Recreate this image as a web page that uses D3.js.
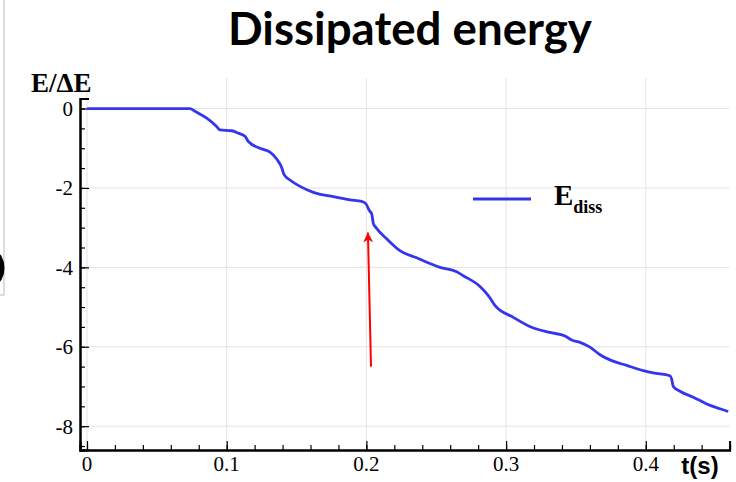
<!DOCTYPE html>
<html>
<head>
<meta charset="utf-8">
<script src="https://cdn.jsdelivr.net/npm/d3@7"></script>
<style>
  body { margin: 0; background: #fff; }
  svg { display: block; }
</style>
</head>
<body>
<svg id="chart" width="736" height="482"></svg>
<script>
// data
const time = [0, 0.0737, 0.0773, 0.0857, 0.0928, 0.0952, 0.1036, 0.1083, 0.1131, 0.1155,
  0.1238, 0.131, 0.1358, 0.1393, 0.141, 0.1453, 0.1525, 0.162, 0.1763, 0.1883,
  0.1966, 0.1997, 0.2021, 0.2038, 0.205, 0.2069, 0.2145, 0.224, 0.236, 0.2527,
  0.2646, 0.2694, 0.2813, 0.2873, 0.292, 0.3052, 0.3183, 0.3314, 0.3422, 0.347,
  0.3529, 0.36, 0.3672, 0.3756, 0.3863, 0.3982, 0.4054, 0.4173, 0.4185, 0.4197,
  0.4245, 0.434, 0.4436, 0.4531, 0.459];
const eDiss = [0, 0, -0.07, -0.24, -0.45, -0.54, -0.56, -0.62, -0.70, -0.83,
  -1.0, -1.10, -1.27, -1.48, -1.66, -1.80, -1.96, -2.11, -2.22, -2.30,
  -2.34, -2.40, -2.57, -2.65, -2.90, -3.00, -3.28, -3.58, -3.76, -4.0,
  -4.11, -4.21, -4.48, -4.71, -4.96, -5.26, -5.51, -5.64, -5.73, -5.83,
  -5.89, -6.01, -6.20, -6.35, -6.47, -6.60, -6.66, -6.73, -6.81, -7.0,
  -7.12, -7.27, -7.44, -7.56, -7.63];

const xTicks = [0, 0.1, 0.2, 0.3, 0.4];
const yTicks = [0, -2, -4, -6, -8];
const arrowFrom = [0.2033, -6.5];
const arrowTo = [0.2011, -3.12];

const svg = d3.select("#chart");

// scales
const x = d3.scaleLinear().domain([-0.005, 0.46]).range([80, 729.6]);
const y = d3.scaleLinear().domain([-8.6, 0.25]).range([450, 98.6]);

// stray bits at the left edge of the screenshot
svg.append("path")
  .attr("d", "M4,0 V295 H0")
  .attr("fill", "none")
  .attr("stroke", "#bbb")
  .attr("stroke-width", 1);
svg.append("ellipse")
  .attr("cx", -5).attr("cy", 268)
  .attr("rx", 9.5).attr("ry", 16)
  .attr("fill", "#000");

// grid
const grid = svg.append("g").attr("stroke", "#e3e3e3").attr("stroke-width", 1);
grid.selectAll(".gx").data(xTicks).join("line")
  .attr("x1", d => x(d)).attr("x2", d => x(d))
  .attr("y1", 78).attr("y2", y(-8.6));
grid.selectAll(".gy").data(yTicks).join("line")
  .attr("x1", x(-0.005)).attr("x2", x(0.46))
  .attr("y1", d => y(d)).attr("y2", d => y(d));

// axes (ticks point inward)
const xMinor = d3.range(0, 0.4601, 0.02);
const yMinor = d3.range(-8.5, 0.01, 0.5);

const xAxis = svg.append("g")
  .attr("transform", `translate(0,${y(-8.6)})`)
  .call(d3.axisTop(x).tickValues(xMinor).tickSize(5).tickFormat(""));
xAxis.append("g")
  .call(d3.axisTop(x).tickValues(xTicks).tickSize(9).tickFormat(""));
xAxis.selectAll(".domain").attr("stroke-width", 2);
xAxis.selectAll(".tick line").attr("stroke-width", 1.2);

svg.append("g").selectAll("text").data(xTicks).join("text")
  .attr("x", d => x(d))
  .attr("y", y(-8.6) + 21)
  .attr("text-anchor", "middle")
  .attr("font-family", "Liberation Serif")
  .attr("font-size", 21)
  .text(d => d3.format("~g")(d));

const yAxis = svg.append("g")
  .attr("transform", `translate(${x(-0.005)},0)`)
  .call(d3.axisRight(y).tickValues(yMinor).tickSize(5).tickFormat(""));
yAxis.append("g")
  .call(d3.axisRight(y).tickValues(yTicks).tickSize(9).tickFormat(""));
yAxis.selectAll(".domain").attr("stroke-width", 2);
yAxis.selectAll(".tick line").attr("stroke-width", 1.2);

svg.append("g").selectAll("text").data(yTicks).join("text")
  .attr("x", 73)
  .attr("y", d => y(d))
  .attr("dy", "0.35em")
  .attr("text-anchor", "end")
  .attr("font-family", "Liberation Serif")
  .attr("font-size", 21)
  .text(d => d);

// axis titles
svg.append("text")
  .attr("x", 31).attr("y", 92)
  .attr("font-family", "Liberation Serif")
  .attr("font-weight", "bold")
  .attr("font-size", 27)
  .text("E/ΔE");

svg.append("text")
  .attr("x", 700).attr("y", 474)
  .attr("text-anchor", "middle")
  .attr("font-family", "Liberation Sans")
  .attr("font-weight", "bold")
  .attr("font-size", 24)
  .text("t(s)");

// title, stretched to the width it has in the picture
const title = svg.append("text")
  .attr("x", 410).attr("y", 45)
  .attr("text-anchor", "middle")
  .attr("font-family", "Lato")
  .attr("font-weight", "bold")
  .attr("font-size", 36)
  .text("Dissipated energy");
const tw = title.node().getComputedTextLength();
title.attr("font-size", 36 * 364 / tw);

// curve
const line = d3.line()
  .x(d => x(d[0]))
  .y(d => y(d[1]))
  .curve(d3.curveMonotoneX);

svg.append("path")
  .datum(d3.zip(time, eDiss))
  .attr("d", line)
  .attr("fill", "none")
  .attr("stroke", "#3535ee")
  .attr("stroke-width", 2.8)
  .attr("stroke-linejoin", "round");

// red arrow
svg.append("defs").append("marker")
  .attr("id", "head")
  .attr("viewBox", "0 0 10 10")
  .attr("refX", 10).attr("refY", 5)
  .attr("markerUnits", "userSpaceOnUse")
  .attr("markerWidth", 15).attr("markerHeight", 10)
  .attr("orient", "auto")
  .append("path")
  .attr("d", "M0,0 L10,5 L0,10 L3,5 Z")
  .attr("fill", "#ff0000");

svg.append("line")
  .attr("x1", x(arrowFrom[0])).attr("y1", y(arrowFrom[1]))
  .attr("x2", x(arrowTo[0])).attr("y2", y(arrowTo[1]))
  .attr("stroke", "#ff0000")
  .attr("stroke-width", 2)
  .attr("marker-end", "url(#head)");

// legend
const legend = svg.append("g");
legend.append("line")
  .attr("x1", 473).attr("x2", 531)
  .attr("y1", 199).attr("y2", 199)
  .attr("stroke", "#3535ee")
  .attr("stroke-width", 2.8);
const lt = legend.append("text")
  .attr("x", 554).attr("y", 205)
  .attr("font-family", "Liberation Serif")
  .attr("font-weight", "bold")
  .attr("font-size", 29)
  .text("E");
lt.append("tspan")
  .attr("dy", 8)
  .attr("font-size", 18)
  .text("diss");
</script>
</body>
</html>
